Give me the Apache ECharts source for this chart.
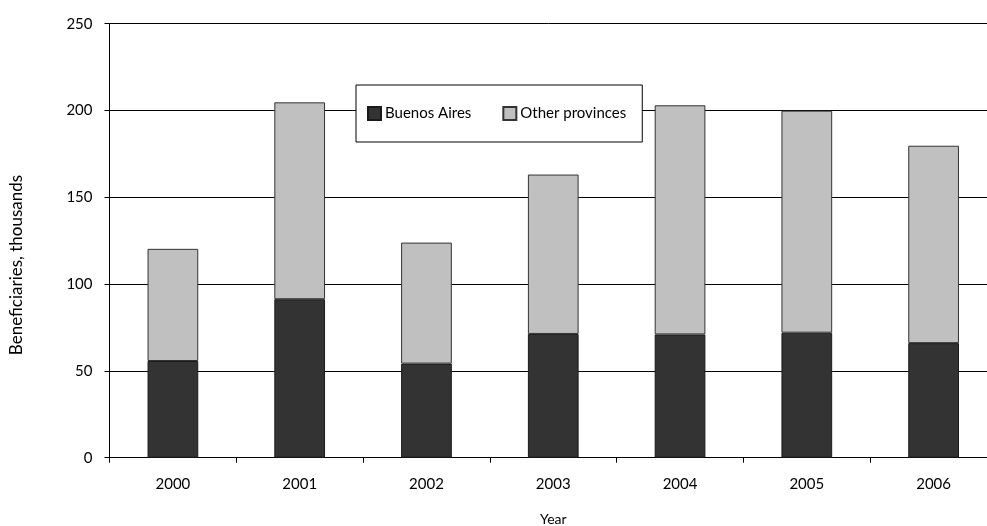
<!DOCTYPE html>
<html>
<head>
<meta charset="utf-8">
<script src="https://cdn.jsdelivr.net/npm/echarts@6/dist/echarts.min.js"></script>
<style>
  html, body { margin: 0; padding: 0; background: #fff; }
  #chart { width: 987px; height: 526px; }
</style>
</head>
<body>
<div id="chart"></div>
<script>
// Beneficiaries by year, thousands
const years = ['2000', '2001', '2002', '2003', '2004', '2005', '2006'];
const buenosAires = [55.7, 91.3, 54.2, 71.3, 71.0, 72.0, 66.0];
const otherProvinces = [64.6, 113.4, 69.7, 91.8, 132.0, 127.9, 113.7];
const yTicks = [0, 50, 100, 150, 200, 250];

const FONT = 'Lato, "Open Sans", sans-serif';

const chart = echarts.init(document.getElementById('chart'), null, { renderer: 'canvas' });

chart.setOption({
  animation: false,
  backgroundColor: '#ffffff',
  textStyle: { fontFamily: FONT, color: '#000' },
  grid: {
    left: 109.5,
    top: 23.7,
    bottom: 68.3,
    right: -10,
    containLabel: false,
    outerBoundsMode: 'none'
  },
  legend: {
    left: 356,
    top: 85,
    orient: 'horizontal',
    icon: 'rect',
    itemWidth: 13,
    itemHeight: 13,
    itemGap: 31,
    padding: [21, 16, 21, 11],
    backgroundColor: '#ffffff',
    borderColor: '#000000',
    borderWidth: 1,
    textStyle: { fontFamily: FONT, fontSize: 15, color: '#000', padding: [0, 0, 0, -1] },
    data: ['Buenos Aires', 'Other provinces']
  },
  graphic: [
    {
      // vertical axis title
      type: 'text',
      x: 17,
      y: 265,
      rotation: Math.PI / 2,
      style: {
        text: 'Beneficiaries, thousands',
        fontFamily: FONT,
        fontSize: 17,
        fill: '#000',
        align: 'center',
        verticalAlign: 'middle'
      }
    }
  ],
  xAxis: {
    type: 'category',
    data: years,
    name: 'Year',
    nameLocation: 'middle',
    nameGap: 55,
    nameTextStyle: { fontFamily: FONT, fontSize: 14, color: '#000' },
    axisLine: { show: true, lineStyle: { color: '#000', width: 1 } },
    axisTick: { show: true, alignWithLabel: false, length: 5, inside: false, lineStyle: { color: '#000' } },
    axisLabel: { fontFamily: FONT, fontSize: 15, color: '#000', margin: 19 },
    splitLine: { show: false }
  },
  yAxis: {
    type: 'value',
    min: yTicks[0],
    max: yTicks[yTicks.length - 1],
    interval: yTicks[1] - yTicks[0],
    axisLine: { show: true, lineStyle: { color: '#000', width: 1 } },
    axisTick: { show: true, length: 5, inside: false, lineStyle: { color: '#000' } },
    axisLabel: { fontFamily: FONT, fontSize: 15, color: '#000', margin: 17 },
    splitLine: { show: true, lineStyle: { color: '#000', width: 1 } }
  },
  series: [
    {
      name: 'Buenos Aires',
      type: 'bar',
      stack: 'total',
      barWidth: '40%',
      data: buenosAires,
      itemStyle: { color: '#333333', borderColor: '#1a1a1a', borderWidth: 1 }
    },
    {
      name: 'Other provinces',
      type: 'bar',
      stack: 'total',
      barWidth: '40%',
      data: otherProvinces,
      itemStyle: { color: '#c0c0c0', borderColor: '#333333', borderWidth: 1 }
    }
  ]
});
</script>
</body>
</html>
